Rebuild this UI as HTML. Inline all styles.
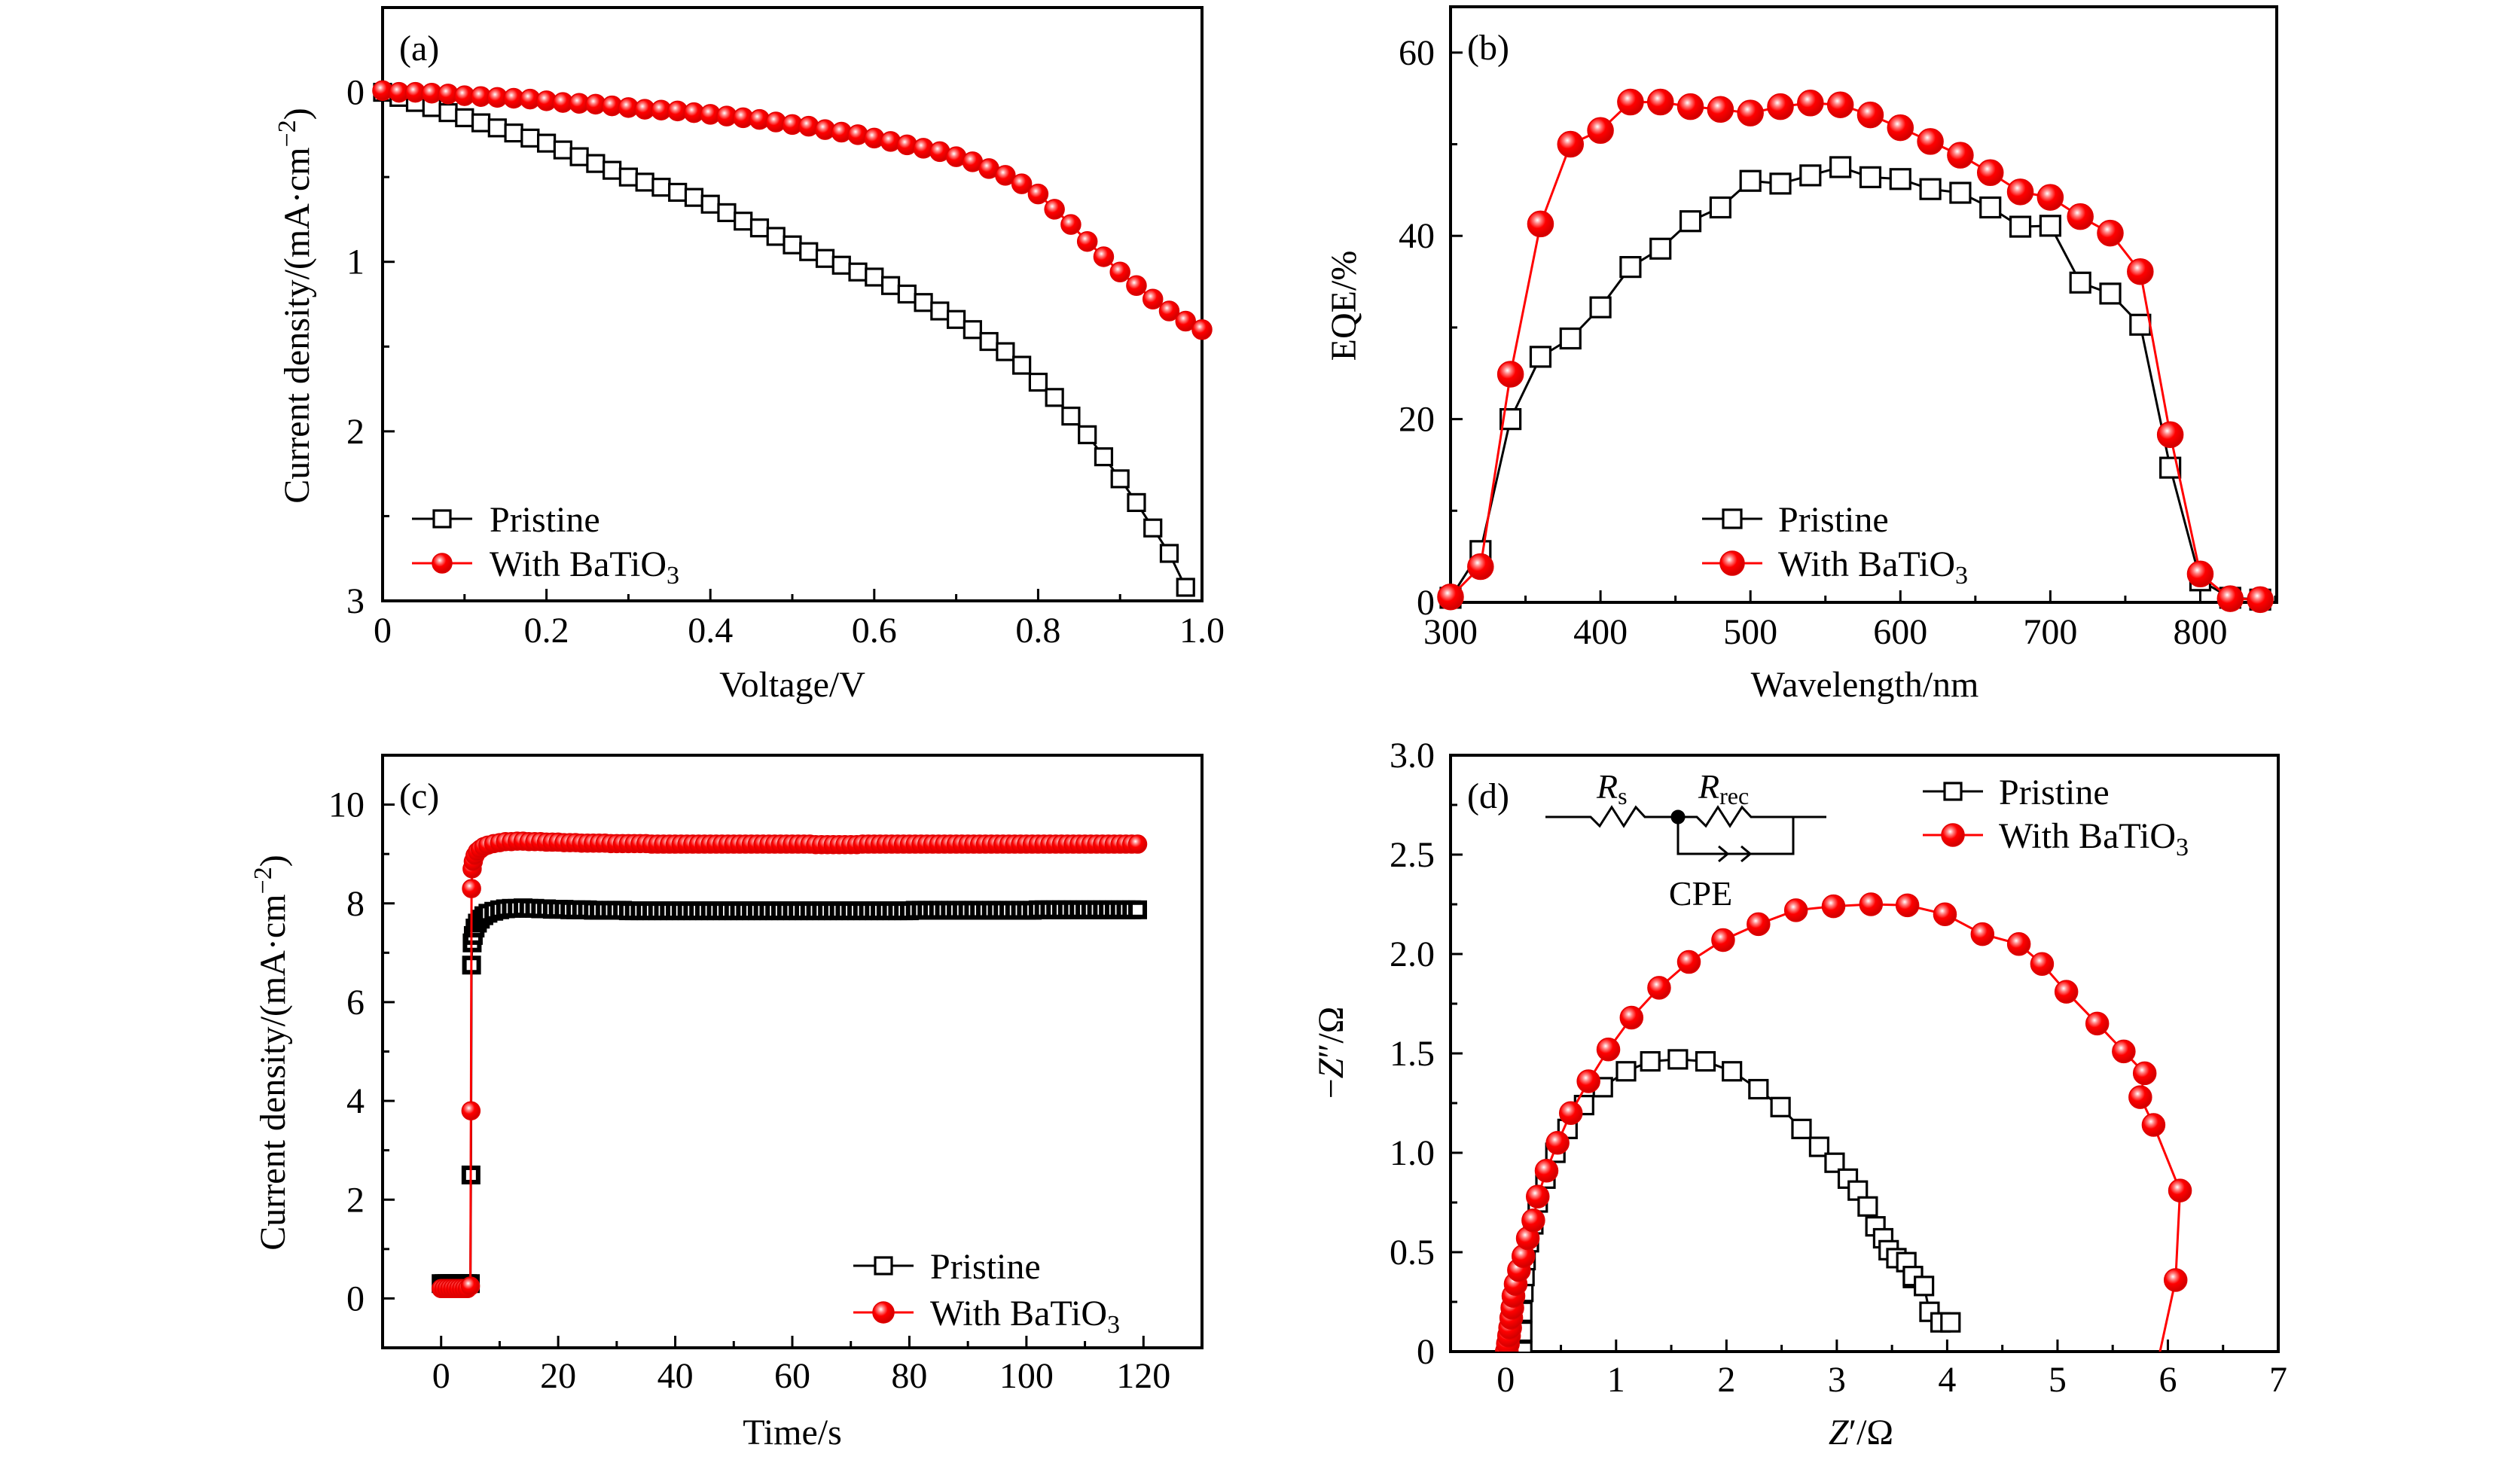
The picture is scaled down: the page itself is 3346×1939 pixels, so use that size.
<!DOCTYPE html>
<html><head><meta charset="utf-8"><style>
html,body{margin:0;padding:0;background:#fff;}
svg{display:block;}
text{font-family:"Liberation Serif","DejaVu Serif",serif;fill:#000;}
</style></head>
<body>
<svg id="fig" width="3346" height="1939" viewBox="0 0 3346 1939" xmlns="http://www.w3.org/2000/svg">
<defs>
<radialGradient id="ball" cx="38%" cy="35%" r="65%">
<stop offset="0" stop-color="#ffffff"/>
<stop offset="0.22" stop-color="#ff8080"/>
<stop offset="0.5" stop-color="#ff0000"/>
<stop offset="1" stop-color="#d00000"/>
</radialGradient>
<clipPath id="clipD"><rect x="1926" y="1003" width="1099" height="792"/></clipPath>
</defs>
<rect x="0" y="0" width="3346" height="1939" fill="#fff"/>
</svg>
<script>
// ---------- Panel (a) J-V data ----------
const aVolt = [0,0.02,0.04,0.06,0.08,0.10,0.12,0.14,0.16,0.18,0.20,0.22,0.24,0.26,0.28,0.30,0.32,0.34,0.36,0.38,0.40,0.42,0.44,0.46,0.48,0.50,0.52,0.54,0.56,0.58,0.60,0.62,0.64,0.66,0.68,0.70,0.72,0.74,0.76,0.78,0.80,0.82,0.84,0.86,0.88,0.90,0.92,0.94,0.96,0.98];
const aPristine = [0.0,0.03,0.06,0.09,0.12,0.15,0.18,0.21,0.24,0.27,0.30,0.34,0.38,0.42,0.46,0.50,0.53,0.56,0.59,0.62,0.66,0.71,0.76,0.80,0.85,0.90,0.94,0.98,1.02,1.06,1.09,1.14,1.19,1.24,1.29,1.34,1.40,1.47,1.53,1.61,1.71,1.80,1.91,2.02,2.15,2.28,2.42,2.57,2.72,2.92];
const aVoltB = [0,0.02,0.04,0.06,0.08,0.10,0.12,0.14,0.16,0.18,0.20,0.22,0.24,0.26,0.28,0.30,0.32,0.34,0.36,0.38,0.40,0.42,0.44,0.46,0.48,0.50,0.52,0.54,0.56,0.58,0.60,0.62,0.64,0.66,0.68,0.70,0.72,0.74,0.76,0.78,0.80,0.82,0.84,0.86,0.88,0.90,0.92,0.94,0.96,0.98,1.00];
const aBaTiO3 = [-0.01,0.0,0.0,0.005,0.01,0.02,0.025,0.03,0.035,0.04,0.05,0.06,0.065,0.07,0.08,0.09,0.10,0.105,0.11,0.12,0.13,0.14,0.15,0.16,0.175,0.19,0.20,0.22,0.235,0.25,0.27,0.29,0.31,0.33,0.35,0.38,0.41,0.45,0.49,0.54,0.60,0.69,0.78,0.88,0.97,1.06,1.14,1.22,1.29,1.35,1.40];
const aXTicks = ["0","0.2","0.4","0.6","0.8","1.0"];
const aYTicks = ["0","1","2","3"];

// ---------- Panel (b) EQE data ----------
const bWave = [300,320,340,360,380,400,420,440,460,480,500,520,540,560,580,600,620,640,660,680,700,720,740,760,780,800,820,840];
const bPristine = [0.5,5.6,20,26.8,28.8,32.2,36.6,38.6,41.6,43.1,46,45.7,46.6,47.5,46.4,46.2,45.1,44.7,43.1,41,41.1,34.9,33.7,30.3,14.7,2.4,0.5,0.3];
const bBaTiO3 = [0.6,3.9,24.9,41.3,50,51.5,54.6,54.6,54.1,53.8,53.4,54.1,54.5,54.3,53.2,51.8,50.3,48.8,46.9,44.8,44.2,42.1,40.3,36.1,18.3,3.1,0.4,0.3];
const bXTicks = ["300","400","500","600","700","800"];
const bYTicks = ["0","20","40","60"];

// ---------- Panel (c) J-t data ----------
const cTime = [0,0.5,1,1.5,2,2.5,3,3.5,4,4.5,5,5.1,5.2,5.3,5.5,5.8,6.2,6.7,7.3,8,9,10,11,12,13,14,15,16,17,18,19,20,21,22,23,24,25,26,27,28,29,30,31,32,33,34,35,36,37,38,39,40,41,42,43,44,45,46,47,48,49,50,51,52,53,54,55,56,57,58,59,60,61,62,63,64,65,66,67,68,69,70,71,72,73,74,75,76,77,78,79,80,81,82,83,84,85,86,87,88,89,90,91,92,93,94,95,96,97,98,99,100,101,102,103,104,105,106,107,108,109,110,111,112,113,114,115,116,117,118,119];
const cPristine = [0.3,0.3,0.3,0.3,0.3,0.3,0.3,0.3,0.3,0.3,0.3,2.5,6.75,7.2,7.35,7.5,7.6,7.68,7.75,7.8,7.84,7.87,7.89,7.9,7.9,7.91,7.9,7.9,7.89,7.89,7.88,7.88,7.88,7.87,7.87,7.87,7.87,7.86,7.86,7.86,7.86,7.86,7.86,7.85,7.85,7.85,7.85,7.85,7.85,7.85,7.85,7.85,7.85,7.85,7.85,7.85,7.85,7.85,7.85,7.85,7.85,7.85,7.85,7.85,7.85,7.85,7.85,7.85,7.85,7.85,7.85,7.85,7.85,7.85,7.85,7.85,7.85,7.85,7.85,7.85,7.85,7.85,7.85,7.85,7.85,7.85,7.85,7.85,7.85,7.85,7.85,7.85,7.86,7.86,7.86,7.86,7.86,7.86,7.86,7.86,7.86,7.86,7.86,7.86,7.86,7.86,7.86,7.86,7.86,7.86,7.86,7.86,7.86,7.87,7.87,7.87,7.87,7.87,7.87,7.87,7.87,7.87,7.87,7.87,7.87,7.87,7.87,7.87,7.87,7.87,7.87,7.87,7.87];
const cBaTiO3 = [0.2,0.2,0.2,0.2,0.2,0.2,0.2,0.2,0.2,0.2,0.25,3.8,8.3,8.7,8.85,8.97,9.05,9.1,9.15,9.18,9.21,9.23,9.25,9.25,9.26,9.26,9.25,9.25,9.25,9.24,9.24,9.24,9.23,9.23,9.23,9.22,9.22,9.22,9.22,9.22,9.21,9.21,9.21,9.21,9.21,9.21,9.21,9.2,9.2,9.2,9.2,9.2,9.2,9.2,9.2,9.2,9.2,9.2,9.2,9.2,9.2,9.2,9.2,9.2,9.2,9.2,9.2,9.2,9.2,9.2,9.2,9.2,9.2,9.2,9.2,9.19,9.19,9.19,9.19,9.19,9.19,9.19,9.19,9.2,9.2,9.2,9.2,9.2,9.2,9.2,9.2,9.2,9.2,9.2,9.2,9.2,9.2,9.2,9.2,9.2,9.2,9.2,9.2,9.2,9.2,9.2,9.2,9.2,9.2,9.2,9.2,9.2,9.2,9.2,9.2,9.2,9.2,9.2,9.2,9.2,9.2,9.2,9.2,9.2,9.2,9.2,9.2,9.2,9.2,9.2,9.2,9.2,9.2,9.2];
const cXTicks = ["0","20","40","60","80","100","120"];
const cYTicks = ["0","2","4","6","8","10"];

// ---------- Panel (d) Nyquist data ----------
const dPristineRe = [0.15,0.15,0.15,0.16,0.17,0.18,0.21,0.25,0.29,0.36,0.45,0.56,0.71,0.88,1.09,1.31,1.56,1.81,2.05,2.29,2.49,2.68,2.84,2.98,3.10,3.19,3.28,3.35,3.42,3.47,3.54,3.63,3.69,3.69,3.79,3.84,3.94,4.03];
const dPristineIm = [0.0,0.1,0.2,0.3,0.38,0.46,0.55,0.64,0.75,0.87,1.0,1.12,1.24,1.33,1.41,1.46,1.47,1.46,1.41,1.32,1.23,1.12,1.03,0.95,0.87,0.81,0.73,0.63,0.57,0.51,0.47,0.45,0.37,0.38,0.33,0.20,0.147,0.147];
const dBaTiO3Re = [0.01,0.02,0.03,0.04,0.05,0.06,0.07,0.09,0.12,0.16,0.20,0.25,0.29,0.37,0.47,0.59,0.75,0.93,1.14,1.39,1.66,1.97,2.29,2.63,2.97,3.31,3.64,3.98,4.32,4.65,4.86,5.08,5.36,5.60,5.79,5.75,5.87,6.11,6.07,5.85];
const dBaTiO3Im = [0.0,0.04,0.08,0.12,0.17,0.22,0.28,0.34,0.41,0.48,0.57,0.66,0.78,0.91,1.05,1.20,1.36,1.52,1.68,1.83,1.96,2.07,2.15,2.22,2.24,2.25,2.245,2.20,2.10,2.05,1.95,1.81,1.65,1.51,1.40,1.28,1.14,0.81,0.36,-0.2];
const dXTicks = ["0","1","2","3","4","5","6","7"];
const dYTicks = ["0","0.5","1.0","1.5","2.0","2.5","3.0"];

const NS = "http://www.w3.org/2000/svg";
const svg = document.getElementById('fig');
function mk(tag, attrs, parent) {
  const e = document.createElementNS(NS, tag);
  for (const k in attrs) e.setAttribute(k, attrs[k]);
  (parent || svg).appendChild(e);
  return e;
}
function scale(d0, d1, r0, r1) { return v => r0 + (v - d0) * (r1 - r0) / (d1 - d0); }

function drawAxes(p) {
  const g = mk('g', {});
  
  
  for (let v = p.xMin; v <= p.xMax + 1e-9; v += p.xMinor) {
    const vv = Math.round(v * 1000) / 1000;
    const isMajor = Math.abs(vv / p.xMajor - Math.round(vv / p.xMajor)) < 1e-6;
    if (vv < p.xdom[0] - 1e-9 || vv > p.xdom[1] + 1e-9) continue;
    const x = p.sx(vv);
    const t = mk('line', {x1: x, x2: x, y1: p.B, y2: p.B - (isMajor ? 16 : 9), stroke: '#000', 'stroke-width': 3}, g);
    
    
  }
  for (let v = p.yMin; v <= p.yMax + 1e-9; v += p.yMinor) {
    const vv = Math.round(v * 1000) / 1000;
    const isMajor = Math.abs(vv / p.yMajor - Math.round(vv / p.yMajor)) < 1e-6;
    const y = p.sy(vv);
    const t = mk('line', {x1: p.L, x2: p.L + (isMajor ? 16 : 9), y1: y, y2: y, stroke: '#000', 'stroke-width': 3}, g);
    
    
  }
  p.xTicks.forEach(s => {
    const v = parseFloat(s);
    const t = mk('text', {x: p.sx(v), y: p.xLabY, 'font-size': 48, 'text-anchor': 'middle'}, g);
    t.textContent = s;
    
    
  });
  p.yTicks.forEach(s => {
    const v = parseFloat(s);
    const t = mk('text', {x: p.yLabX, y: p.sy(v) + 16, 'font-size': 48, 'text-anchor': 'end'}, g);
    t.textContent = s;
    
    
  });
  const fr = mk('rect', {x: p.L, y: p.T, width: p.R - p.L, height: p.B - p.T, fill: 'none', stroke: '#000', 'stroke-width': 4}, g);
  
  
  const pl = mk('text', {x: p.L + 22, y: p.T + 70, 'font-size': 48}, g);
  pl.textContent = p.label;
  
  
}

function drawSeries(p, xs, ys, kind, size, name, clip, sw) {
  const g = mk('g', clip ? {'clip-path': 'url(#' + clip + ')'} : {});
  
  
  const pts = xs.map((x, i) => p.sx(x).toFixed(1) + ',' + p.sy(ys[i]).toFixed(1)).join(' ');
  const ln = mk('polyline', {points: pts, fill: 'none', stroke: kind === 'sq' ? '#000' : '#f00', 'stroke-width': 3}, g);
  
  
  xs.forEach((x, i) => {
    const cx = p.sx(x), cy = p.sy(ys[i]);
    let m;
    if (kind === 'sq') {
      m = mk('rect', {x: cx - size / 2, y: cy - size / 2, width: size, height: size, fill: '#fff', stroke: '#000', 'stroke-width': sw || 3.2}, g);
    } else {
      m = mk('circle', {cx: cx, cy: cy, r: size, fill: 'url(#ball)', stroke: '#e00000', 'stroke-width': 1.5}, g);
    }
    
    
  });
}

function drawLegend(x0, y1, y2, tx, sq, cr) {
  const g = mk('g', {});
  
  
  const e1 = mk('g', {}, g);
  
  
  mk('line', {x1: x0, x2: x0 + 80, y1: y1, y2: y1, stroke: '#000', 'stroke-width': 3}, e1);
  mk('rect', {x: x0 + 40 - sq / 2, y: y1 - sq / 2, width: sq, height: sq, fill: '#fff', stroke: '#000', 'stroke-width': 3.2}, e1);
  const t1 = mk('text', {x: tx, y: y1 + 17, 'font-size': 48}, e1);
  t1.textContent = 'Pristine';
  const e2 = mk('g', {}, g);
  
  
  mk('line', {x1: x0, x2: x0 + 80, y1: y2, y2: y2, stroke: '#f00', 'stroke-width': 3}, e2);
  mk('circle', {cx: x0 + 40, cy: y2, r: cr, fill: 'url(#ball)', stroke: '#e00000', 'stroke-width': 1.5}, e2);
  const t2 = mk('text', {x: tx, y: y2 + 17, 'font-size': 48}, e2);
  t2.innerHTML = 'With BaTiO<tspan font-size="34" dy="10">3</tspan>';
}

function title(x, y, html, rot, name) {
  const t = mk('text', {x: x, y: y, 'font-size': 48, 'text-anchor': 'middle', transform: rot ? 'rotate(-90 ' + x + ' ' + y + ')' : ''});
  t.innerHTML = html;
  
  
}

// Panel A
const PA = {name: 'panel-a', label: '(a)', L: 508, R: 1596, T: 10, B: 798, xdom: [0, 1],
  xMin: 0, xMax: 1, xMinor: 0.1, xMajor: 0.2, yMin: -0.5, yMax: 3, yMinor: 0.5, yMajor: 1,
  xTicks: aXTicks, yTicks: aYTicks, xLabY: 853, yLabX: 484};
PA.sx = scale(0, 1, 508, 1596); PA.sy = scale(-0.5, 3, 10, 798);
drawAxes(PA);
drawSeries(PA, aVolt, aPristine, 'sq', 22, 'pristine-jv-series');
drawSeries(PA, aVoltB, aBaTiO3, 'ci', 13, 'batio3-jv-series');
drawLegend(547, 689, 748, 650, 22, 13);
title(410, 406, 'Current density/(mA·cm<tspan font-size="34" dy="-18">−2</tspan><tspan dy="18">)</tspan>', true, 'y-axis-title-a');
title(1052, 925, 'Voltage/V', false, 'x-axis-title-a');

// Panel B
const PB = {name: 'panel-b', label: '(b)', L: 1926, R: 3023, T: 9, B: 800, xdom: [300, 851],
  xMin: 300, xMax: 850, xMinor: 50, xMajor: 100, yMin: 0, yMax: 60, yMinor: 10, yMajor: 20,
  xTicks: bXTicks, yTicks: bYTicks, xLabY: 855, yLabX: 1905};
PB.sx = scale(300, 851, 1926, 3023); PB.sy = scale(65, 0, 9, 800);
drawAxes(PB);
drawSeries(PB, bWave, bPristine, 'sq', 26, 'pristine-eqe-series');
drawSeries(PB, bWave, bBaTiO3, 'ci', 17, 'batio3-eqe-series');
drawLegend(2260, 689, 748, 2361, 24, 16);
title(1800, 406, 'EQE/%', true, 'y-axis-title-b');
title(2476, 925, 'Wavelength/nm', false, 'x-axis-title-b');

// Panel C
const PC = {name: 'panel-c', label: '(c)', L: 508, R: 1596, T: 1003, B: 1790, xdom: [-10, 130],
  xMin: 0, xMax: 120, xMinor: 10, xMajor: 20, yMin: -1, yMax: 10, yMinor: 1, yMajor: 2,
  xTicks: cXTicks, yTicks: cYTicks, xLabY: 1843, yLabX: 484};
PC.sx = scale(-10, 130, 508, 1596); PC.sy = scale(11, -1, 1003, 1790);
drawAxes(PC);
drawSeries(PC, cTime, cPristine, 'sq', 19, 'pristine-jt-series', null, 6);
drawSeries(PC, cTime, cBaTiO3, 'ci', 12, 'batio3-jt-series');
drawLegend(1133, 1681, 1743, 1235, 22, 14);
title(378, 1398, 'Current density/(mA·cm<tspan font-size="34" dy="-18">−2</tspan><tspan dy="18">)</tspan>', true, 'y-axis-title-c');
title(1052, 1918, 'Time/s', false, 'x-axis-title-c');

// Panel D
const PD = {name: 'panel-d', label: '(d)', L: 1926, R: 3025, T: 1003, B: 1795, xdom: [-0.5, 7],
  xMin: -0.5, xMax: 7, xMinor: 0.5, xMajor: 1, yMin: 0, yMax: 3, yMinor: 0.25, yMajor: 0.5,
  xTicks: dXTicks, yTicks: dYTicks, xLabY: 1848, yLabX: 1905};
PD.sx = scale(-0.5, 7, 1926, 3025); PD.sy = scale(3, 0, 1003, 1795);
drawAxes(PD);
drawSeries(PD, dPristineRe, dPristineIm, 'sq', 24, 'pristine-nyquist-series', 'clipD');
drawSeries(PD, dBaTiO3Re, dBaTiO3Im, 'ci', 15, 'batio3-nyquist-series', 'clipD');
drawLegend(2553, 1051, 1109, 2654, 22, 15);
title(1783, 1398, '−<tspan font-style="italic">Z</tspan>″/Ω', true, 'y-axis-title-d');
title(2471, 1918, '<tspan font-style="italic">Z</tspan>′/Ω', false, 'x-axis-title-d');

// Equivalent circuit inset
const circ = mk('g', {fill: 'none', stroke: '#000', 'stroke-width': 3});


mk('polyline', {points: '2052,1085 2112,1085 2124,1097 2140,1072 2156,1097 2172,1072 2184,1085 2228,1085 2253,1085 2265,1097 2281,1072 2297,1097 2313,1072 2325,1085 2425,1085'}, circ);
mk('polyline', {points: '2228,1085 2228,1134 2381,1134 2381,1085'}, circ);
mk('polyline', {points: '2282,1124 2294,1134 2282,1144'}, circ);
mk('polyline', {points: '2312,1124 2324,1134 2312,1144'}, circ);
mk('circle', {cx: 2228, cy: 1085, r: 8, fill: '#000'}, circ);
const rs = mk('text', {x: 2120, y: 1060, 'font-size': 46});
rs.innerHTML = '<tspan font-style="italic">R</tspan><tspan font-size="32" dy="8">s</tspan>';


const rr = mk('text', {x: 2255, y: 1060, 'font-size': 46});
rr.innerHTML = '<tspan font-style="italic">R</tspan><tspan font-size="32" dy="8">rec</tspan>';


const cpe = mk('text', {x: 2258, y: 1202, 'font-size': 46, 'text-anchor': 'middle'});
cpe.textContent = 'CPE';


</script>
</body></html>
